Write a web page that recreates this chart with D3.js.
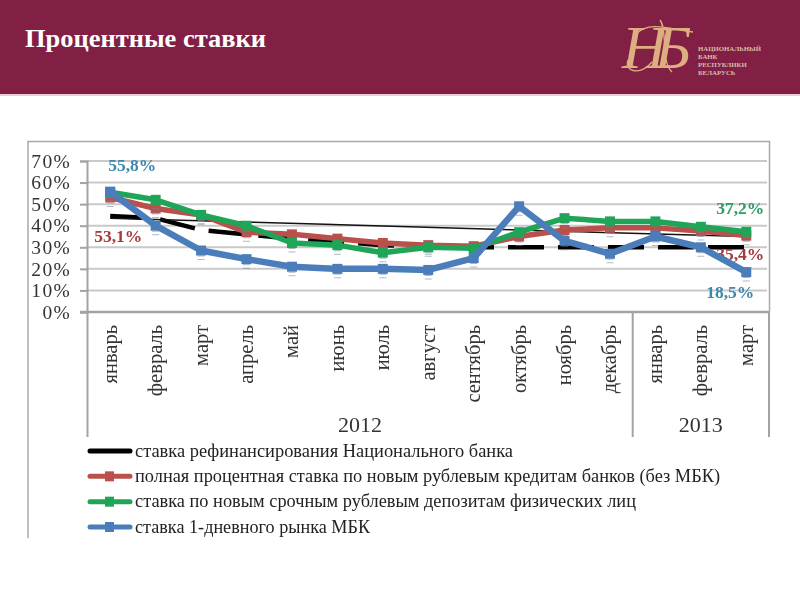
<!DOCTYPE html>
<html><head><meta charset="utf-8">
<script src="https://cdnjs.cloudflare.com/ajax/libs/d3/7.8.5/d3.min.js"></script>
<style>html,body{margin:0;padding:0;background:#fff}svg{display:block;filter:blur(.45px)}text{font-family:"Liberation Serif",serif}</style>
</head><body><svg id="c" width="800" height="600"></svg>
<script>
const months=["январь","февраль","март","апрель","май","июнь","июль","август","сентябрь","октябрь","ноябрь","декабрь","январь","февраль","март"];
const yearLabels=["2012","2013"];
const yearCounts=[12,3];
const yTicks=[0,10,20,30,40,50,60,70];
const refinancing=[44.5,43.5,38,36,34,32.5,31,30.5,30,30,30,30,30,30,30];
const trendStart=43.5, trendEnd=35;
const loans=[53.1,48,45,37,36,34,32,31,30.5,35,38,39,39,37.5,35.4];
const deposits=[55.5,52,45,40,32,31,27.5,30,29.5,37,43.5,42,42,39.5,37.2];
const interbank=[55.8,40,28.5,24.5,21,20,20,19.5,25,49,33,27,35,30,18.5];
const legendNames=["ставка рефинансирования Национального банка","полная процентная ставка  по новым рублевым кредитам банков (без МБК)","ставка по новым срочным рублевым депозитам физических лиц","ставка 1-дневного рынка МБК"];
const legendWidths=[378,585,501,235];
const title="Процентные ставки";
const bankLines=["НАЦИОНАЛЬНЫЙ","БАНК","РЕСПУБЛИКИ","БЕЛАРУСЬ"];

const svg=d3.select("#c");
// header
svg.append("rect").attr("width",800).attr("height",94).attr("fill","#811f45");
svg.append("rect").attr("y",94).attr("width",800).attr("height",2).attr("fill","#eccbd8");
svg.append("text").attr("x",25).attr("y",47).attr("fill","#fff").attr("font-weight","bold").attr("font-size",25)
  .attr("textLength",241).attr("lengthAdjust","spacingAndGlyphs").text(title);
svg.append("text").attr("x",622).attr("y",68).attr("font-size",62).attr("font-style","italic").attr("letter-spacing",-12)
  .attr("fill","#dcae80").text("НБ");
svg.append("path").attr("d","M636 34C650 20 672 30 693 32M628 60C624 72 640 76 652 62M660 20C668 30 660 60 672 72")
  .attr("fill","none").attr("stroke","#dcae80").attr("stroke-width",1.3);
svg.append("g").selectAll("text").data(bankLines).join("text").attr("x",698).attr("y",(d,i)=>51+i*7.9)
  .attr("font-size",6.8).attr("fill","#dcbcae").attr("font-weight","bold").text(d=>d);

// chart frame
svg.append("path").attr("d","M28 538V141.5H769.5V312").attr("fill","none").attr("stroke","#a9a9a9").attr("stroke-width",1.5);

const x=d3.scaleBand().domain(d3.range(months.length)).range([87.5,769]);
const y=d3.scaleLinear().domain([0,70]).range([312,161]);
const px=i=>x(i)+x.bandwidth()/2;

// grid
svg.append("g").selectAll("line").data(yTicks.slice(1)).join("line")
  .attr("x1",87).attr("x2",767).attr("y1",d=>y(d)).attr("y2",d=>y(d)).attr("stroke","#c9c9c9").attr("stroke-width",2);

// y axis
const ya=svg.append("g").attr("transform","translate(87,0)").call(d3.axisLeft(y).tickValues(yTicks).tickFormat(d=>d+"%").tickSize(7).tickPadding(9));
ya.select(".domain").attr("stroke","#a3a3a3").attr("stroke-width",2);
ya.selectAll("line").attr("stroke","#a3a3a3").attr("stroke-width",2);
ya.selectAll("text").attr("font-size",19.5).attr("letter-spacing",1.3).attr("fill","#333").style("font-family",'"Liberation Serif",serif');

// x axis with multi-level labels
svg.append("line").attr("x1",80).attr("x2",769).attr("y1",y(0)).attr("y2",y(0)).attr("stroke","#a3a3a3").attr("stroke-width",2.5);
let cum=0; const bounds=[0];
yearCounts.forEach(c=>{cum+=c;bounds.push(cum)});
svg.append("g").selectAll("line").data(bounds).join("line")
  .attr("x1",i=>i<months.length?x(i):x.range()[1]).attr("x2",i=>i<months.length?x(i):x.range()[1])
  .attr("y1",y(0)).attr("y2",437).attr("stroke","#a3a3a3").attr("stroke-width",2);
svg.append("g").selectAll("text").data(months).join("text")
  .attr("transform",(d,i)=>`translate(${px(i)+6.5},325) rotate(-90)`).attr("text-anchor","end")
  .attr("font-size",20.5).attr("fill","#333").text(d=>d);
svg.append("g").selectAll("text").data(yearLabels).join("text")
  .attr("x",(d,i)=>(x(bounds[i])+(bounds[i+1]<months.length?x(bounds[i+1]):x.range()[1]))/2)
  .attr("y",432).attr("text-anchor","middle").attr("font-size",22).attr("fill","#333").text(d=>d);

// series
const line=d3.line().x((d,i)=>px(i)).y(d=>y(d));
svg.append("path").datum(refinancing).attr("d",line).attr("fill","none").attr("stroke","#000").attr("stroke-width",4.5).attr("stroke-dasharray","36 14");
svg.append("line").attr("x1",px(0)).attr("x2",px(14)).attr("y1",y(trendStart)).attr("y2",y(trendEnd)).attr("stroke","#111").attr("stroke-width",1.5);

// value labels
const valueLabels=[
 {s:interbank,i:0,t:"55,8%",c:"#3f87ad",dx:-2,dy:-21,a:"start"},
 {s:loans,i:0,t:"53,1%",c:"#a93a3c",dx:-16,dy:45,a:"start"},
 {s:deposits,i:14,t:"37,2%",c:"#2a9d63",dx:18,dy:-18,a:"end"},
 {s:loans,i:14,t:"35,4%",c:"#a93a3c",dx:18,dy:24,a:"end"},
 {s:interbank,i:14,t:"18,5%",c:"#3f87ad",dx:8,dy:26,a:"end"}];
svg.append("g").selectAll("text").data(valueLabels).join("text")
  .attr("x",d=>px(d.i)+d.dx).attr("y",d=>y(d.s[d.i])+d.dy).attr("text-anchor",d=>d.a)
  .attr("font-size",17.5).attr("font-weight","bold").attr("fill",d=>d.c).text(d=>d.t);

const series=[[loans,"#b9504c",5.5],[deposits,"#1fa558",5.5],[interbank,"#4b7dbb",6.5]];
series.forEach(([vals,col,w])=>{
  svg.append("path").datum(vals).attr("d",line).attr("fill","none").attr("stroke",col).attr("stroke-width",w).attr("stroke-linejoin","round");
  const g=svg.append("g");
  g.selectAll("line").data(vals).join("line").attr("x1",(d,i)=>px(i)).attr("x2",(d,i)=>px(i)).attr("y1",d=>y(d)+5).attr("y2",d=>y(d)+11)
    .attr("stroke","#6f8296").attr("stroke-width",7).attr("stroke-dasharray","1 2.5").attr("opacity",.55);
  g.selectAll("rect").data(vals).join("rect").attr("x",(d,i)=>px(i)-5).attr("y",d=>y(d)-5).attr("width",10).attr("height",10).attr("fill",col);
});

// legend
const legendColors=["#000","#b9504c","#1fa558","#4b7dbb"];
const ly=d3.scalePoint().domain(d3.range(4)).range([451,527]);
const lg=svg.append("g").selectAll("g").data(legendNames).join("g").attr("transform",(d,i)=>`translate(0,${ly(i)})`);
lg.append("line").attr("x1",90).attr("x2",130).attr("stroke",(d,i)=>legendColors[i]).attr("stroke-width",5).attr("stroke-linecap","round");
lg.filter((d,i)=>i>0).append("rect").attr("x",105).attr("y",-5).attr("width",9).attr("height",10).attr("fill",(d)=>legendColors[legendNames.indexOf(d)]);
lg.append("text").attr("x",135).attr("y",5.5).attr("font-size",18).attr("fill","#222")
  .attr("textLength",(d,i)=>legendWidths[i]).attr("lengthAdjust","spacingAndGlyphs").text(d=>d);
</script></body></html>
